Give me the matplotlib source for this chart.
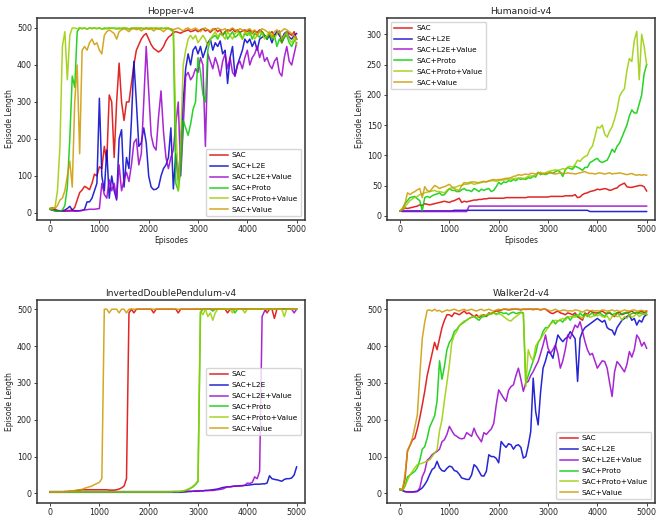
import numpy as np
import matplotlib
matplotlib.use("Agg")
import matplotlib.pyplot as plt

episodes = np.arange(0, 5001, 50)
labels = ["SAC", "SAC+L2E", "SAC+L2E+Value", "SAC+Proto", "SAC+Proto+Value", "SAC+Value"]
colors = ["#dd0000", "#0000cc", "#9900cc", "#00cc00", "#99cc00", "#cc9900"]

# ---------------- Hopper-v4 ----------------
hopper_sac = [12, 14, 10, 7, 6, 5, 5, 6, 7, 8,
              15, 35, 55, 62, 72, 68, 63, 80, 105, 100,
              125, 120, 180, 140, 319, 300, 150, 300, 405, 300,
              250, 300, 300, 350, 400, 440, 455, 470, 480, 485,
              470, 455, 445, 440, 435, 440, 450, 465, 475, 480,
              488, 490, 488, 486, 490, 492, 495, 490, 492, 495,
              490, 495, 498, 492, 495, 488, 495, 498, 490, 495,
              480, 490, 495, 492, 498, 490, 495, 488, 492, 495,
              490, 495, 485, 492, 488, 495, 490, 480, 470, 485,
              490, 480, 485, 492, 460, 475, 490, 485, 480, 490,
              470]
hopper_l2e = [10, 8, 7, 6, 6, 6, 8, 12, 18, 8,
              6, 6, 6, 7, 10, 30, 30, 40, 60, 80,
              310, 100, 60, 170, 40, 100, 60, 35, 200, 225,
              70, 150, 120, 250, 410, 300, 180, 190, 230, 190,
              100, 70, 63, 64, 70, 100, 120, 130, 150, 230,
              65, 160, 90, 180, 300, 390, 430, 400, 440, 450,
              430, 450, 420, 440, 460, 470, 440, 460, 450, 465,
              430, 440, 350, 420, 450, 370, 400, 420, 440, 470,
              460, 470, 450, 465, 440, 470, 475, 480, 470, 480,
              460, 480, 490, 480, 470, 485, 490, 475, 470, 480,
              485]
hopper_l2e_value = [10, 8, 6, 5, 5, 5, 5, 5, 5, 5,
                    5, 5, 6, 7, 8, 9, 10, 10, 10, 11,
                    12, 80, 50, 40, 90, 60, 80, 40, 130, 60,
                    90, 110, 85, 130, 190, 200, 130, 160, 300, 450,
                    330, 210, 180, 170, 260, 330, 220, 150, 120, 150,
                    170, 240, 300, 100, 230, 370, 380, 360, 370, 390,
                    380, 420, 400, 180, 430, 410, 390, 420, 400, 370,
                    410, 430, 390, 420, 380, 370, 400, 410, 390, 420,
                    440, 400, 420, 430, 450, 420, 440, 410, 420, 400,
                    390, 410, 420, 380, 370, 420, 450, 410, 400, 430,
                    460]
hopper_proto = [10, 8, 5, 5, 5, 8, 20, 70, 200, 370,
                340, 490, 500, 498, 500, 497, 500, 499, 500, 498,
                500, 497, 500, 498, 500, 499, 500, 497, 500, 498,
                500, 499, 497, 500, 498, 500, 499, 500, 497, 500,
                498, 500, 499, 500, 497, 500, 498, 500, 499, 495,
                490, 80, 60, 120, 250, 230, 210, 240, 280, 300,
                420, 380, 320, 300, 440, 470, 475, 480, 470, 485,
                480, 490, 470, 480, 490, 475, 480, 490, 470, 485,
                480, 490, 470, 485, 480, 475, 490, 480, 470, 485,
                470, 480, 450, 470, 460, 475, 480, 460, 450, 465,
                470]
hopper_proto_value = [12, 12, 15, 60, 180, 450, 490, 360, 480, 500,
                      500, 498, 500, 499, 500, 497, 500, 498, 500, 499,
                      500, 498, 497, 500, 499, 500, 498, 500, 497, 500,
                      499, 500, 498, 497, 500, 499, 500, 498, 500, 497,
                      500, 499, 498, 500, 497, 500, 499, 500, 498, 498,
                      495, 250, 60, 200, 400, 440, 470, 480, 470, 480,
                      460, 470, 480, 470, 450, 470, 480, 490, 475, 485,
                      480, 470, 490, 480, 470, 485, 490, 480, 470, 490,
                      485, 480, 490, 470, 480, 490, 485, 470, 480, 490,
                      480, 470, 485, 490, 470, 480, 490, 470, 460, 475,
                      455]
hopper_value = [12, 15, 12, 20, 35, 40, 60, 100, 140, 70,
                300, 400, 160, 440, 450, 440, 460, 470, 455, 460,
                440, 430, 480, 490, 495, 490, 485, 470, 490, 495,
                498, 495, 490, 497, 500, 495, 498, 492, 497, 500,
                496, 498, 492, 497, 500, 495, 490, 496, 500, 497,
                495, 498, 500, 496, 492, 498, 500, 495, 497, 500,
                495, 490, 498, 500, 495, 492, 498, 495, 500, 496,
                495, 498, 490, 496, 500, 495, 492, 498, 495, 490,
                495, 498, 490, 495, 480, 492, 498, 495, 490, 485,
                475, 490, 495, 488, 492, 498, 495, 490, 485, 480,
                470]

# ---------------- Humanoid-v4 ----------------
humanoid_sac = [8, 10, 13, 12, 13, 14, 15, 16, 18, 17,
                20, 19, 18, 19, 20, 21, 22, 23, 24, 23,
                22, 24, 25, 27, 29, 22, 24, 23, 24, 25,
                26, 26, 27, 27, 28, 28, 29, 29, 29, 29,
                29, 29, 29, 30, 30, 30, 30, 30, 30, 30,
                30, 30, 31, 31, 31, 31, 31, 31, 31, 31,
                31, 32, 32, 32, 32, 32, 32, 33, 33, 33,
                33, 35, 30, 31, 35, 37, 38, 40, 41, 42,
                44, 43, 44, 45, 44, 42, 43, 45, 46, 50,
                52, 54, 48, 47, 47, 48, 49, 50, 50, 48,
                41]
humanoid_l2e = [8, 8, 8, 8, 8, 8, 8, 8, 8, 8,
                8, 8, 8, 8, 8, 8, 8, 8, 8, 8,
                8, 8, 9, 9, 9, 9, 9, 9, 9, 9,
                9, 9, 9, 9, 9, 9, 9, 9, 9, 9,
                9, 9, 9, 9, 9, 9, 9, 9, 9, 9,
                9, 9, 9, 9, 9, 9, 9, 9, 9, 9,
                9, 9, 9, 9, 9, 9, 9, 9, 9, 9,
                9, 9, 9, 9, 9, 9, 9, 7, 7, 7,
                7, 7, 7, 7, 7, 7, 7, 7, 7, 7,
                7, 7, 7, 7, 7, 7, 7, 7, 7, 7,
                7]
humanoid_l2e_value = [8, 7, 7, 7, 7, 7, 7, 7, 7, 7,
                      7, 7, 7, 7, 7, 7, 7, 7, 7, 7,
                      7, 7, 7, 7, 7, 7, 7, 7, 16, 16,
                      16, 16, 16, 16, 16, 16, 16, 16, 16, 16,
                      16, 16, 16, 16, 16, 16, 16, 16, 16, 16,
                      16, 16, 16, 16, 16, 16, 16, 16, 16, 16,
                      16, 16, 16, 16, 16, 16, 16, 16, 16, 16,
                      16, 16, 16, 16, 16, 16, 16, 16, 16, 16,
                      16, 16, 16, 16, 16, 16, 16, 16, 16, 16,
                      16, 16, 16, 16, 16, 16, 16, 16, 16, 16,
                      16]
humanoid_proto = [8, 12, 20, 25, 30, 31, 32, 28, 25, 8,
                  30, 32, 30, 33, 35, 36, 38, 34, 35, 40,
                  45, 42, 42, 40, 40, 43, 45, 42, 42, 40,
                  45, 43, 40, 44, 42, 44, 45, 40, 42, 48,
                  55, 52, 56, 55, 58, 57, 60, 58, 62, 60,
                  62, 60, 63, 62, 66, 64, 72, 68, 70, 68,
                  70, 72, 70, 73, 75, 72, 65, 76, 80, 78,
                  77, 82, 80, 78, 75, 80, 80, 88, 90, 93,
                  95, 90, 88, 90, 92, 100, 110, 105, 115, 120,
                  130, 140, 150, 165, 175, 170, 170, 185, 200, 235,
                  250]
humanoid_proto_value = [8, 10, 15, 20, 25, 28, 30, 32, 35, 36,
                        38, 39, 40, 41, 42, 40, 40, 39, 38, 42,
                        45, 46, 47, 48, 50, 50, 52, 52, 53, 54,
                        52, 53, 54, 55, 56, 56, 57, 58, 58, 57,
                        58, 59, 59, 60, 60, 61, 61, 62, 62, 63,
                        60, 63, 65, 66, 64, 68, 70, 72, 70, 71,
                        73, 74, 75, 76, 75, 76, 78, 77, 80, 82,
                        80, 85, 92, 90, 95, 98, 100, 110, 115, 130,
                        147, 145, 150, 135, 130, 140, 147, 160, 175, 197,
                        205, 210, 240, 260, 255, 290, 305, 225, 300, 280,
                        250]
humanoid_value = [8, 12, 20, 38, 35, 38, 40, 43, 45, 30,
                  48, 42, 40, 45, 50, 48, 45, 47, 48, 50,
                  52, 48, 45, 43, 42, 50, 55, 54, 55, 56,
                  56, 55, 55, 56, 57, 56, 58, 59, 60, 59,
                  60, 60, 61, 62, 62, 63, 65, 66, 68, 67,
                  68, 69, 68, 70, 70, 69, 71, 70, 69, 70,
                  70, 71, 70, 69, 70, 71, 70, 70, 71, 70,
                  70, 69, 70, 71, 72, 73, 71, 70, 70, 69,
                  70, 71, 70, 69, 70, 71, 69, 70, 70, 71,
                  70, 69, 68, 69, 70, 68, 67, 68, 67, 68,
                  67]

# ---------------- InvertedDoublePendulum-v4 ----------------
idp_sac = [4, 4, 4, 4, 4, 4, 5, 5, 6, 6,
           7, 8, 9, 10, 10, 10, 10, 10, 10, 10,
           10, 10, 10, 10, 9, 9, 9, 10, 12, 15,
           20, 40, 490, 500, 490, 500, 500, 500, 500, 500,
           500, 500, 490, 500, 500, 500, 500, 500, 500, 500,
           500, 500, 490, 500, 500, 500, 500, 500, 500, 500,
           500, 500, 500, 500, 500, 500, 500, 500, 500, 500,
           500, 500, 490, 500, 500, 500, 500, 500, 500, 500,
           500, 500, 500, 500, 500, 500, 500, 500, 490, 500,
           500, 475, 500, 500, 500, 500, 500, 500, 500, 500,
           500]
idp_l2e = [3, 3, 3, 3, 3, 3, 3, 3, 3, 3,
           3, 3, 3, 3, 3, 3, 3, 3, 3, 3,
           3, 3, 3, 3, 3, 3, 3, 3, 3, 3,
           3, 3, 3, 3, 3, 3, 3, 3, 3, 3,
           3, 3, 3, 3, 3, 3, 3, 3, 3, 3,
           3, 3, 3, 3, 4, 4, 5, 5, 6, 6,
           6, 7, 7, 8, 8, 9, 10, 11, 12, 14,
           16, 17, 18, 18, 19, 20, 20, 21, 21, 22,
           22, 23, 24, 25, 25, 25, 26, 26, 28, 48,
           40, 38, 37, 35, 33, 38, 40, 40, 42, 50,
           72]
idp_l2e_value = [5, 5, 5, 5, 5, 5, 5, 5, 5, 5,
                 5, 5, 5, 5, 5, 5, 5, 5, 5, 5,
                 5, 5, 5, 5, 5, 5, 5, 5, 5, 5,
                 5, 5, 5, 5, 5, 5, 5, 5, 5, 5,
                 5, 5, 5, 5, 5, 5, 5, 5, 5, 5,
                 5, 5, 5, 5, 5, 6, 6, 6, 6, 7,
                 7, 7, 7, 8, 8, 8, 8, 9, 10, 11,
                 12, 15, 18, 18, 19, 20, 20, 20, 21, 22,
                 28, 27, 30, 45, 40, 60, 480, 495, 500, 500,
                 500, 500, 500, 500, 500, 500, 500, 500, 500, 490,
                 500]
idp_proto = [4, 4, 4, 4, 4, 4, 4, 4, 4, 4,
             4, 4, 4, 4, 4, 4, 4, 4, 4, 4,
             4, 4, 4, 4, 4, 4, 4, 4, 4, 4,
             4, 4, 4, 4, 4, 4, 4, 4, 4, 4,
             4, 4, 4, 4, 4, 4, 4, 4, 4, 4,
             5, 5, 5, 5, 6, 8, 10, 14, 18, 24,
             32, 490, 500, 500, 500, 500, 495, 500, 500, 500,
             500, 500, 500, 500, 500, 490, 500, 500, 500, 500,
             500, 500, 500, 500, 500, 500, 500, 500, 500, 500,
             500, 500, 500, 500, 500, 500, 500, 500, 500, 500,
             500]
idp_proto_value = [4, 4, 4, 4, 4, 4, 4, 4, 4, 4,
                   4, 4, 4, 4, 4, 4, 4, 4, 4, 4,
                   4, 4, 4, 4, 4, 4, 4, 4, 4, 4,
                   4, 4, 4, 4, 4, 4, 4, 4, 4, 4,
                   4, 4, 4, 4, 4, 4, 4, 4, 4, 4,
                   5, 5, 5, 6, 7, 9, 12, 15, 20, 26,
                   35, 495, 485, 500, 480, 490, 470, 490, 500, 500,
                   500, 500, 500, 500, 490, 500, 500, 500, 500, 490,
                   500, 500, 500, 500, 500, 500, 500, 500, 500, 500,
                   500, 500, 500, 500, 500, 480, 500, 500, 500, 500,
                   500]
idp_value = [4, 4, 3, 3, 3, 4, 5, 5, 6, 7,
             8, 9, 10, 11, 14, 16, 18, 20, 24, 27,
             30, 40, 500, 500, 490, 500, 500, 500, 490, 500,
             500, 490, 500, 500, 500, 500, 500, 500, 500, 500,
             500, 500, 500, 500, 500, 500, 500, 500, 500, 500,
             500, 500, 500, 500, 500, 500, 500, 500, 500, 500,
             500, 500, 500, 500, 500, 500, 500, 500, 500, 500,
             500, 500, 500, 500, 500, 500, 500, 500, 500, 500,
             500, 500, 500, 500, 500, 500, 500, 500, 500, 500,
             500, 500, 500, 500, 500, 500, 500, 500, 500, 500,
             500]

# ---------------- Walker2d-v4 ----------------
walker_sac = [12, 10, 40, 115, 130, 145, 150, 175, 205, 240,
              277, 320, 350, 380, 410, 390, 420, 450, 470, 485,
              485, 480, 490, 488, 485, 490, 495, 488, 490, 485,
              480, 485, 478, 482, 485, 480, 490, 488, 492, 495,
              495, 498, 500, 500, 498, 500, 500, 500, 500, 498,
              500, 500, 500, 500, 500, 500, 500, 498, 500, 500,
              495, 490, 488, 492, 495, 490, 488, 485, 490, 488,
              485, 490, 480, 475, 470, 490, 485, 495, 492, 490,
              490, 492, 495, 490, 488, 490, 485, 480, 490, 492,
              485, 488, 490, 492, 495, 490, 488, 492, 495, 490,
              495]
walker_l2e = [10, 8, 5, 4, 4, 4, 5, 6, 10, 15,
              24, 35, 51, 65, 70, 87, 70, 62, 60, 68,
              74, 72, 62, 60, 52, 42, 40, 38, 38, 50,
              78, 72, 60, 48, 47, 60, 105, 100, 100, 95,
              83, 141, 132, 125, 135, 132, 120, 130, 132, 125,
              96, 100, 130, 168, 313, 222, 186, 276, 340, 360,
              385, 380, 367, 400, 430, 420, 412, 420, 425, 439,
              430, 420, 304, 421, 440, 450, 455, 460, 465, 470,
              475, 470, 465, 470, 450, 445, 443, 430, 450, 460,
              470, 475, 480, 484, 470, 475, 457, 470, 465, 480,
              485]
walker_l2e_value = [10, 8, 5, 4, 4, 4, 4, 5, 15, 45,
                    60, 90, 96, 105, 110, 114, 120, 140, 146, 160,
                    182, 170, 159, 155, 150, 148, 150, 165, 160, 155,
                    177, 160, 150, 140, 165, 160, 168, 175, 190, 240,
                    281, 270, 259, 250, 280, 290, 295, 320, 340, 310,
                    277, 300, 304, 320, 331, 345, 358, 380, 403, 430,
                    394, 380, 390, 403, 380, 340, 360, 390, 430, 420,
                    440, 457, 450, 466, 440, 412, 390, 376, 380, 360,
                    340, 350, 360, 358, 340, 300, 263, 330, 358, 350,
                    340, 330, 350, 385, 370, 390, 430, 420, 400, 410,
                    394]
walker_proto = [10, 8, 20, 45, 50, 55, 60, 70, 90, 120,
                127, 150, 180, 195, 210, 250, 360, 310, 345, 390,
                410, 420, 440, 445, 455, 460, 465, 470, 475, 478,
                480, 475, 470, 478, 480, 482, 485, 488, 490, 487,
                490, 492, 488, 490, 485, 490, 492, 488, 490, 492,
                490, 300, 320, 340, 360, 380, 410, 420, 440, 450,
                450, 460, 470, 460, 468, 470, 465, 475, 480, 470,
                480, 485, 478, 490, 482, 488, 480, 485, 490, 482,
                488, 490, 485, 480, 490, 492, 485, 488, 490, 485,
                488, 490, 492, 485, 488, 490, 492, 488, 490, 485,
                490]
walker_proto_value = [10, 10, 20, 35, 50, 60, 70, 78, 80, 82,
                      85, 88, 91, 100, 110, 118, 170, 200, 253, 300,
                      350, 410, 430, 440, 455, 462, 468, 470, 475, 478,
                      482, 478, 480, 485, 482, 485, 488, 486, 490, 485,
                      488, 485, 480, 475, 470, 468, 475, 480, 485, 490,
                      488, 290, 390, 370, 360, 400, 410, 420, 430, 440,
                      450, 460, 465, 470, 468, 472, 475, 470, 478, 480,
                      480, 478, 485, 480, 475, 482, 485, 478, 480, 485,
                      482, 485, 480, 478, 482, 470, 480, 485, 480, 482,
                      470, 480, 475, 485, 478, 482, 488, 480, 485, 488,
                      485]
walker_value = [12, 10, 50, 115, 130, 150, 180, 213, 320, 420,
                465, 497, 498, 495, 500, 495, 497, 492, 495, 498,
                496, 498, 500, 497, 495, 498, 500, 496, 498, 500,
                497, 495, 498, 500, 496, 498, 500, 497, 495, 498,
                500, 498, 500, 499, 500, 498, 500, 500, 499, 500,
                500, 499, 500, 500, 498, 500, 500, 499, 500, 500,
                498, 495, 497, 500, 496, 495, 498, 497, 495, 496,
                495, 498, 497, 495, 492, 496, 498, 495, 497, 495,
                496, 495, 498, 497, 495, 496, 498, 495, 497, 494,
                495, 498, 496, 495, 497, 498, 495, 496, 497, 495,
                495]

panels = [
    ("Hopper-v4", [hopper_sac, hopper_l2e, hopper_l2e_value, hopper_proto, hopper_proto_value, hopper_value],
     (-19, 527), [0, 100, 200, 300, 400, 500], "lower right",
     [37, 18, 268, 202]),
    ("Humanoid-v4", [humanoid_sac, humanoid_l2e, humanoid_l2e_value, humanoid_proto, humanoid_proto_value, humanoid_value],
     (-7, 327), [0, 50, 100, 150, 200, 250, 300], "upper left",
     [387, 18, 268, 202]),
    ("InvertedDoublePendulum-v4", [idp_sac, idp_l2e, idp_l2e_value, idp_proto, idp_proto_value, idp_value],
     (-26, 525), [0, 100, 200, 300, 400, 500], "center right",
     [37, 300, 268, 203]),
    ("Walker2d-v4", [walker_sac, walker_l2e, walker_l2e_value, walker_proto, walker_proto_value, walker_value],
     (-26, 525), [0, 100, 200, 300, 400, 500], "lower right",
     [387, 300, 268, 203]),
]

W, H = 658, 518
fig = plt.figure(figsize=(W / 100, H / 100), dpi=100)
xticks = [0, 1000, 2000, 3000, 4000, 5000]

for title, series, ylim, yticks, loc, (px, py, pw, ph) in panels:
    ax = fig.add_axes([px / W, 1 - (py + ph) / H, pw / W, ph / H])
    for vals, lab, col in zip(series, labels, colors):
        ax.plot(episodes, vals, color=col, lw=1.1, alpha=0.85, label=lab)
    ax.set_xlim(-265, 5170)
    ax.set_ylim(*ylim)
    ax.set_xticks(xticks)
    ax.set_yticks(yticks)
    ax.tick_params(labelsize=5.7, length=2.2, width=0.6, pad=1.5, colors="#222222")
    for s in ax.spines.values():
        s.set_color("#333333")
        s.set_linewidth(1.1)
    ax.set_title(title, fontsize=6.6, pad=3, color="#222222")
    ax.set_xlabel("Episodes", fontsize=5.5, labelpad=1.5, color="#222222")
    ax.set_ylabel("Episode Length", fontsize=5.5, labelpad=2, color="#222222")
    ax.legend(loc=loc, fontsize=5.3, handlelength=2.5, handletextpad=0.5,
              borderpad=0.45, labelspacing=0.65, framealpha=0.8)

fig.savefig("out.png", dpi=100)
